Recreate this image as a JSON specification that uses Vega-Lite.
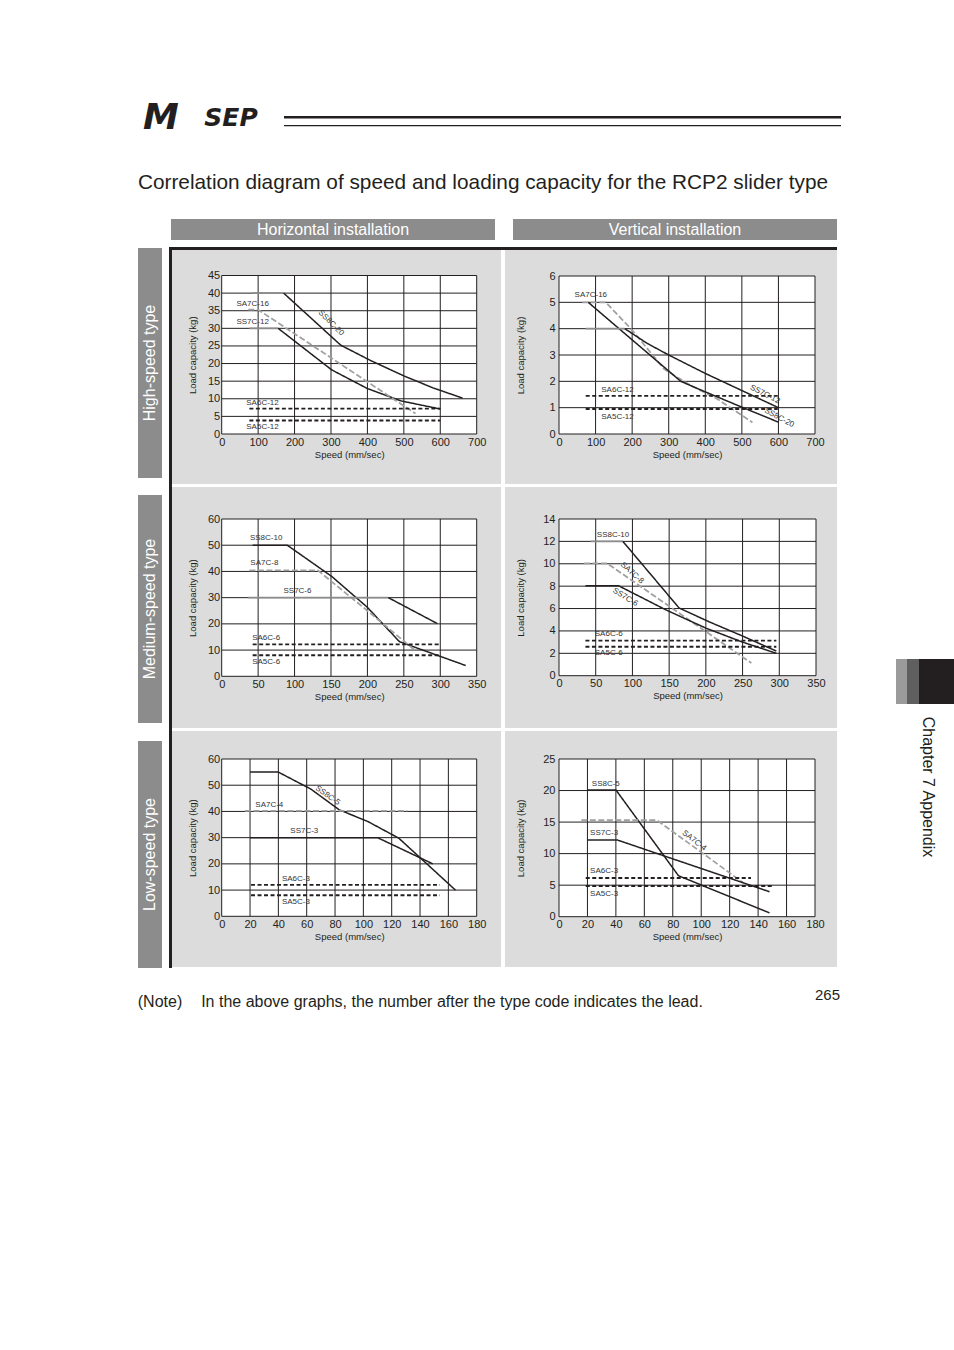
{
 "$schema": "https://vega.github.io/schema/vega-lite/v6.json",
 "padding": {"left": 137, "top": 100, "right": 0, "bottom": 0},
 "background": "white",
 "config": {
  "view": {"stroke": null},
  "font": "Liberation Sans",
  "concat": {"spacing": 0},
  "axis": {"grid": false, "domain": false, "ticks": false, "tickSize": 0, "labelFont": "Liberation Sans", "labelFontSize": 11, "labelColor": "#231f20", "titleFont": "Liberation Sans", "titleFontSize": 9.5, "titleFontWeight": "normal", "titleColor": "#231f20", "labelFlush": false, "labelOverlap": false},
  "axisX": {"labelPadding": 2, "titlePadding": 2},
  "rule": {"color": "#231f20", "strokeWidth": 1},
  "text": {"color": "#231f20"}
 },
 "spacing": 0,
 "vconcat": [
  {"spacing": 0, "hconcat": [
   {"width": 46, "height": 36, "data": {"values": [{"t": "M"}]}, "mark": {"type": "text", "font": "DejaVu Sans", "fontSize": 36, "fontWeight": "bold", "fontStyle": "italic"}, "encoding": {"text": {"field": "t"}}},
   {"width": 94, "height": 36, "data": {"values": [{"t": "SEP"}]}, "mark": {"type": "text", "font": "DejaVu Sans", "fontSize": 25, "fontWeight": "bold", "fontStyle": "italic"}, "encoding": {"text": {"field": "t"}}},
   {"width": 6, "height": 36, "data": {"values": [{}]}, "mark": {"type": "point", "size": 0, "opacity": 0}},
   {"spacing": 0, "vconcat": [
    {"width": 557, "height": 15.5, "data": {"values": [{}]}, "mark": {"type": "point", "size": 0, "opacity": 0}},
    {"width": 557, "height": 2.5, "view": {"fill": "#231f20", "stroke": null}, "data": {"values": [{}]}, "mark": {"type": "point", "size": 0, "opacity": 0}},
    {"width": 557, "height": 5.5, "data": {"values": [{}]}, "mark": {"type": "point", "size": 0, "opacity": 0}},
    {"width": 557, "height": 1.2, "view": {"fill": "#231f20", "stroke": null}, "data": {"values": [{}]}, "mark": {"type": "point", "size": 0, "opacity": 0}}
   ]}
  ]},
  {"width": 690, "height": 34, "data": {"values": [{}]}, "mark": {"type": "point", "size": 0, "opacity": 0}},
  {"width": 690, "height": 26, "data": {"values": [{"t": "Correlation diagram of speed and loading capacity for the RCP2 slider type"}]}, "mark": {"type": "text", "fontSize": 20.8}, "encoding": {"text": {"field": "t"}}},
  {"width": 690, "height": 23, "data": {"values": [{}]}, "mark": {"type": "point", "size": 0, "opacity": 0}},
  {"spacing": 0, "hconcat": [
   {"spacing": 0, "vconcat": [
    {"width": 24, "height": 29, "data": {"values": [{}]}, "mark": {"type": "point", "size": 0, "opacity": 0}},
    {"width": 24, "height": 230, "view": {"fill": "#8c8c8c", "stroke": null}, "data": {"values": [{"t": "High-speed type"}]}, "mark": {"type": "text", "angle": 270, "fontSize": 16, "color": "white"}, "encoding": {"text": {"field": "t"}}},
    {"width": 24, "height": 17, "data": {"values": [{}]}, "mark": {"type": "point", "size": 0, "opacity": 0}},
    {"width": 24, "height": 228, "view": {"fill": "#8c8c8c", "stroke": null}, "data": {"values": [{"t": "Medium-speed type"}]}, "mark": {"type": "text", "angle": 270, "fontSize": 16, "color": "white"}, "encoding": {"text": {"field": "t"}}},
    {"width": 24, "height": 18, "data": {"values": [{}]}, "mark": {"type": "point", "size": 0, "opacity": 0}},
    {"width": 24, "height": 227, "view": {"fill": "#8c8c8c", "stroke": null}, "data": {"values": [{"t": "Low-speed type"}]}, "mark": {"type": "text", "angle": 270, "fontSize": 16, "color": "white"}, "encoding": {"text": {"field": "t"}}}
   ]},
   {"width": 7, "height": 20, "data": {"values": [{}]}, "mark": {"type": "point", "size": 0, "opacity": 0}},
   {"spacing": 0, "vconcat": [
    {"spacing": 0, "hconcat": [
     {"width": 2, "height": 21, "data": {"values": [{}]}, "mark": {"type": "point", "size": 0, "opacity": 0}},
     {"width": 324, "height": 21, "view": {"fill": "#8c8c8c", "stroke": null}, "data": {"values": [{"t": "Horizontal installation"}]}, "mark": {"type": "text", "fontSize": 16, "color": "white"}, "encoding": {"text": {"field": "t"}}},
     {"width": 18, "height": 21, "data": {"values": [{}]}, "mark": {"type": "point", "size": 0, "opacity": 0}},
     {"width": 324, "height": 21, "view": {"fill": "#8c8c8c", "stroke": null}, "data": {"values": [{"t": "Vertical installation"}]}, "mark": {"type": "text", "fontSize": 16, "color": "white"}, "encoding": {"text": {"field": "t"}}}
    ]},
    {"width": 668, "height": 7, "data": {"values": [{}]}, "mark": {"type": "point", "size": 0, "opacity": 0}},
    {"spacing": 0, "hconcat": [
     {"width": 3, "height": 721, "view": {"fill": "#231f20", "stroke": null}, "data": {"values": [{}]}, "mark": {"type": "point", "size": 0, "opacity": 0}},
     {"spacing": 0, "vconcat": [
      {"width": 665, "height": 3, "view": {"fill": "#231f20", "stroke": null}, "data": {"values": [{}]}, "mark": {"type": "point", "size": 0, "opacity": 0}},
      {"spacing": 0, "hconcat": [
       {"width": 329, "height": 234, "view": {"fill": "#dcdcdc", "stroke": null}, "layer": [
        {"data": {"values": [{}]}, "mark": {"type": "rect", "fill": "white"}, "encoding": {
         "x": {"datum": 0, "type": "quantitative", "scale": {"domain": [0, 700], "range": [49.7, 304.7], "nice": false, "zero": false}, "axis": {"title": "Speed (mm/sec)", "values": [0, 100, 200, 300, 400, 500, 600, 700], "tickCount": 30, "format": "d", "offset": -50, "labelOverlap": false}},
         "x2": {"datum": 700},
         "y": {"datum": 0, "type": "quantitative", "scale": {"domain": [0, 45], "range": [184, 25.5], "nice": false, "zero": false}, "axis": {"title": "Load capacity (kg)", "values": [0, 5, 10, 15, 20, 25, 30, 35, 40, 45], "tickCount": 30, "format": "d", "offset": -49.7, "labelPadding": 2, "titlePadding": 10, "labelOverlap": false}},
         "y2": {"datum": 45}}},
        {"data": {"values": [{"v": 0}, {"v": 100}, {"v": 200}, {"v": 300}, {"v": 400}, {"v": 500}, {"v": 600}, {"v": 700}]}, "mark": "rule", "encoding": {"x": {"field": "v", "type": "quantitative"}, "y": {"datum": 0, "type": "quantitative"}, "y2": {"datum": 45}}},
        {"data": {"values": [{"v": 0}, {"v": 5}, {"v": 10}, {"v": 15}, {"v": 20}, {"v": 25}, {"v": 30}, {"v": 35}, {"v": 40}, {"v": 45}]}, "mark": "rule", "encoding": {"y": {"field": "v", "type": "quantitative"}, "x": {"datum": 0, "type": "quantitative"}, "x2": {"datum": 700}}},
        {"data": {"values": [
         {"id": "SS8C-20a", "kind": "SS-flat", "x": 85, "y": 40}, {"id": "SS8C-20a", "kind": "SS-flat", "x": 170, "y": 40},
         {"id": "SS8C-20", "kind": "SS", "x": 170, "y": 40}, {"id": "SS8C-20", "kind": "SS", "x": 327, "y": 25.2}, {"id": "SS8C-20", "kind": "SS", "x": 410, "y": 20.8}, {"id": "SS8C-20", "kind": "SS", "x": 500, "y": 16.5}, {"id": "SS8C-20", "kind": "SS", "x": 580, "y": 13.1}, {"id": "SS8C-20", "kind": "SS", "x": 661, "y": 10.2},
         {"id": "SS7C-12a", "kind": "SS-flat", "x": 76, "y": 30}, {"id": "SS7C-12a", "kind": "SS-flat", "x": 155, "y": 30},
         {"id": "SS7C-12", "kind": "SS", "x": 155, "y": 30}, {"id": "SS7C-12", "kind": "SS", "x": 302, "y": 18.2}, {"id": "SS7C-12", "kind": "SS", "x": 400, "y": 12.9}, {"id": "SS7C-12", "kind": "SS", "x": 492, "y": 9.4}, {"id": "SS7C-12", "kind": "SS", "x": 600, "y": 7.1},
         {"id": "SA7C-16", "kind": "SA7C", "x": 73, "y": 35.3}, {"id": "SA7C-16", "kind": "SA7C", "x": 100, "y": 35.3}, {"id": "SA7C-16", "kind": "SA7C", "x": 532, "y": 5.8},
         {"id": "SA6C-12", "kind": "SA6C", "x": 76, "y": 7.2}, {"id": "SA6C-12", "kind": "SA6C", "x": 600, "y": 7.2},
         {"id": "SA5C-12", "kind": "SA5C", "x": 76, "y": 3.8}, {"id": "SA5C-12", "kind": "SA5C", "x": 600, "y": 3.8}
        ]}, "mark": {"type": "line"}, "encoding": {
         "x": {"field": "x", "type": "quantitative"}, "y": {"field": "y", "type": "quantitative"}, "detail": {"field": "id"},
         "color": {"field": "kind", "type": "nominal", "legend": null, "scale": {"domain": ["SS", "SS-flat", "SA7C", "SA6C", "SA5C"], "range": ["#231f20", "#8c8c8c", "#a0a0a0", "#231f20", "#231f20"]}},
         "strokeDash": {"field": "kind", "type": "nominal", "legend": null, "scale": {"domain": ["SS", "SS-flat", "SA7C", "SA6C", "SA5C"], "range": [[1, 0], [1, 0], [6, 2.5], [4, 2.5], [4, 2.5]]}},
         "strokeWidth": {"field": "kind", "type": "nominal", "legend": null, "scale": {"domain": ["SS", "SS-flat", "SA7C", "SA6C", "SA5C"], "range": [1.5, 2, 2.8, 1.4, 1.8]}}}},
        {"data": {"values": [{"label": "SA7C-16", "x": 85, "y": 36.9}, {"label": "SS7C-12", "x": 85, "y": 31.7}, {"label": "SA6C-12", "x": 112, "y": 8.9}, {"label": "SA5C-12", "x": 112, "y": 1.9}]}, "mark": {"type": "text", "fontSize": 8, "color": "#333333"}, "encoding": {"x": {"field": "x", "type": "quantitative"}, "y": {"field": "y", "type": "quantitative"}, "text": {"field": "label"}}},
        {"data": {"values": [{"label": "SS8C-20", "x": 300, "y": 31.5}]}, "mark": {"type": "text", "fontSize": 8, "color": "#333333", "angle": 45}, "encoding": {"x": {"field": "x", "type": "quantitative"}, "y": {"field": "y", "type": "quantitative"}, "text": {"field": "label"}}}
       ]},
       {"width": 4, "height": 234, "data": {"values": [{}]}, "mark": {"type": "point", "size": 0, "opacity": 0}},
       {"width": 332, "height": 234, "view": {"fill": "#dcdcdc", "stroke": null}, "layer": [
        {"data": {"values": [{}]}, "mark": {"type": "rect", "fill": "white"}, "encoding": {
         "x": {"datum": 0, "type": "quantitative", "scale": {"domain": [0, 700], "range": [54, 310], "nice": false, "zero": false}, "axis": {"title": "Speed (mm/sec)", "values": [0, 100, 200, 300, 400, 500, 600, 700], "tickCount": 30, "format": "d", "offset": -50, "labelOverlap": false}},
         "x2": {"datum": 700},
         "y": {"datum": 0, "type": "quantitative", "scale": {"domain": [0, 6], "range": [184, 26], "nice": false, "zero": false}, "axis": {"title": "Load capacity (kg)", "values": [0, 1, 2, 3, 4, 5, 6], "tickCount": 30, "format": "d", "offset": -54, "labelPadding": 4, "titlePadding": 23, "labelOverlap": false}},
         "y2": {"datum": 6}}},
        {"data": {"values": [{"v": 0}, {"v": 100}, {"v": 200}, {"v": 300}, {"v": 400}, {"v": 500}, {"v": 600}, {"v": 700}]}, "mark": "rule", "encoding": {"x": {"field": "v", "type": "quantitative"}, "y": {"datum": 0, "type": "quantitative"}, "y2": {"datum": 6}}},
        {"data": {"values": [{"v": 0}, {"v": 1}, {"v": 2}, {"v": 3}, {"v": 4}, {"v": 5}, {"v": 6}]}, "mark": "rule", "encoding": {"y": {"field": "v", "type": "quantitative"}, "x": {"datum": 0, "type": "quantitative"}, "x2": {"datum": 700}}},
        {"data": {"values": [
         {"id": "SA7C-16", "kind": "SA7C", "x": 64, "y": 5}, {"id": "SA7C-16", "kind": "SA7C", "x": 128, "y": 5}, {"id": "SA7C-16", "kind": "SA7C", "x": 201, "y": 3.93}, {"id": "SA7C-16", "kind": "SA7C", "x": 287, "y": 2.47}, {"id": "SA7C-16", "kind": "SA7C", "x": 360, "y": 1.84}, {"id": "SA7C-16", "kind": "SA7C", "x": 433, "y": 1.33}, {"id": "SA7C-16", "kind": "SA7C", "x": 529, "y": 0.44},
         {"id": "SS8C-20", "kind": "SS", "x": 80, "y": 5}, {"id": "SS8C-20", "kind": "SS", "x": 160, "y": 4.05}, {"id": "SS8C-20", "kind": "SS", "x": 333, "y": 2.0}, {"id": "SS8C-20", "kind": "SS", "x": 400, "y": 1.6}, {"id": "SS8C-20", "kind": "SS", "x": 500, "y": 1.02}, {"id": "SS8C-20", "kind": "SS", "x": 600, "y": 0.45},
         {"id": "SS7C-12a", "kind": "SS-flat", "x": 73, "y": 4}, {"id": "SS7C-12a", "kind": "SS-flat", "x": 180, "y": 4},
         {"id": "SS7C-12", "kind": "SS", "x": 180, "y": 4}, {"id": "SS7C-12", "kind": "SS", "x": 240, "y": 3.45}, {"id": "SS7C-12", "kind": "SS", "x": 300, "y": 3.0}, {"id": "SS7C-12", "kind": "SS", "x": 400, "y": 2.3}, {"id": "SS7C-12", "kind": "SS", "x": 500, "y": 1.65}, {"id": "SS7C-12", "kind": "SS", "x": 600, "y": 1.0},
         {"id": "SA6C-12", "kind": "SA6C", "x": 73, "y": 1.45}, {"id": "SA6C-12", "kind": "SA6C", "x": 598, "y": 1.45},
         {"id": "SA5C-12", "kind": "SA5C", "x": 73, "y": 0.95}, {"id": "SA5C-12", "kind": "SA5C", "x": 598, "y": 0.95}
        ]}, "mark": {"type": "line"}, "encoding": {
         "x": {"field": "x", "type": "quantitative"}, "y": {"field": "y", "type": "quantitative"}, "detail": {"field": "id"},
         "color": {"field": "kind", "type": "nominal", "legend": null, "scale": {"domain": ["SS", "SS-flat", "SA7C", "SA6C", "SA5C"], "range": ["#231f20", "#8c8c8c", "#a0a0a0", "#231f20", "#231f20"]}},
         "strokeDash": {"field": "kind", "type": "nominal", "legend": null, "scale": {"domain": ["SS", "SS-flat", "SA7C", "SA6C", "SA5C"], "range": [[1, 0], [1, 0], [6, 2.5], [4, 2.5], [4, 2.5]]}},
         "strokeWidth": {"field": "kind", "type": "nominal", "legend": null, "scale": {"domain": ["SS", "SS-flat", "SA7C", "SA6C", "SA5C"], "range": [1.5, 2, 2.8, 1.4, 1.8]}}}},
        {"data": {"values": [{"label": "SA7C-16", "x": 87, "y": 5.27}, {"label": "SA6C-12", "x": 160, "y": 1.68}, {"label": "SA5C-12", "x": 160, "y": 0.66}]}, "mark": {"type": "text", "fontSize": 8, "color": "#333333"}, "encoding": {"x": {"field": "x", "type": "quantitative"}, "y": {"field": "y", "type": "quantitative"}, "text": {"field": "label"}}},
        {"data": {"values": [{"label": "SS7C-12", "x": 563, "y": 1.5}]}, "mark": {"type": "text", "fontSize": 8, "color": "#333333", "angle": 27}, "encoding": {"x": {"field": "x", "type": "quantitative"}, "y": {"field": "y", "type": "quantitative"}, "text": {"field": "label"}}},
        {"data": {"values": [{"label": "SS8C-20", "x": 602, "y": 0.61}]}, "mark": {"type": "text", "fontSize": 8, "color": "#333333", "angle": 28}, "encoding": {"x": {"field": "x", "type": "quantitative"}, "y": {"field": "y", "type": "quantitative"}, "text": {"field": "label"}}}
       ]}
      ]},
      {"width": 665, "height": 3, "data": {"values": [{}]}, "mark": {"type": "point", "size": 0, "opacity": 0}},
      {"spacing": 0, "hconcat": [
       {"width": 329, "height": 241, "view": {"fill": "#dcdcdc", "stroke": null}, "layer": [
        {"data": {"values": [{}]}, "mark": {"type": "rect", "fill": "white"}, "encoding": {
         "x": {"datum": 0, "type": "quantitative", "scale": {"domain": [0, 350], "range": [49.7, 304.7], "nice": false, "zero": false}, "axis": {"title": "Speed (mm/sec)", "values": [0, 50, 100, 150, 200, 250, 300, 350], "tickCount": 30, "format": "d", "offset": -51.7, "labelOverlap": false}},
         "x2": {"datum": 350},
         "y": {"datum": 0, "type": "quantitative", "scale": {"domain": [0, 60], "range": [189.3, 32], "nice": false, "zero": false}, "axis": {"title": "Load capacity (kg)", "values": [0, 10, 20, 30, 40, 50, 60], "tickCount": 30, "format": "d", "offset": -49.7, "labelPadding": 2, "titlePadding": 10, "labelOverlap": false}},
         "y2": {"datum": 60}}},
        {"data": {"values": [{"v": 0}, {"v": 50}, {"v": 100}, {"v": 150}, {"v": 200}, {"v": 250}, {"v": 300}, {"v": 350}]}, "mark": "rule", "encoding": {"x": {"field": "v", "type": "quantitative"}, "y": {"datum": 0, "type": "quantitative"}, "y2": {"datum": 60}}},
        {"data": {"values": [{"v": 0}, {"v": 10}, {"v": 20}, {"v": 30}, {"v": 40}, {"v": 50}, {"v": 60}]}, "mark": "rule", "encoding": {"y": {"field": "v", "type": "quantitative"}, "x": {"datum": 0, "type": "quantitative"}, "x2": {"datum": 350}}},
        {"data": {"values": [
         {"id": "SS8C-10", "kind": "SS", "x": 42.5, "y": 50}, {"id": "SS8C-10", "kind": "SS", "x": 90, "y": 50}, {"id": "SS8C-10", "kind": "SS", "x": 151, "y": 38.1}, {"id": "SS8C-10", "kind": "SS", "x": 200, "y": 26.3}, {"id": "SS8C-10", "kind": "SS", "x": 244, "y": 13.2}, {"id": "SS8C-10", "kind": "SS", "x": 296, "y": 8}, {"id": "SS8C-10", "kind": "SS", "x": 335, "y": 4.1},
         {"id": "SA7C-8", "kind": "SA7C", "x": 38, "y": 40.4}, {"id": "SA7C-8", "kind": "SA7C", "x": 132, "y": 40.4}, {"id": "SA7C-8", "kind": "SA7C", "x": 200, "y": 25}, {"id": "SA7C-8", "kind": "SA7C", "x": 264, "y": 10.2},
         {"id": "SS7C-6a", "kind": "SS-flat", "x": 36.6, "y": 30}, {"id": "SS7C-6a", "kind": "SS-flat", "x": 228.7, "y": 30},
         {"id": "SS7C-6", "kind": "SS", "x": 228.7, "y": 30}, {"id": "SS7C-6", "kind": "SS", "x": 296, "y": 20.1},
         {"id": "SA6C-6", "kind": "SA6C", "x": 42.5, "y": 12.2}, {"id": "SA6C-6", "kind": "SA6C", "x": 300, "y": 12.2},
         {"id": "SA5C-6", "kind": "SA5C", "x": 42.5, "y": 8}, {"id": "SA5C-6", "kind": "SA5C", "x": 300, "y": 8}
        ]}, "mark": {"type": "line"}, "encoding": {
         "x": {"field": "x", "type": "quantitative"}, "y": {"field": "y", "type": "quantitative"}, "detail": {"field": "id"},
         "color": {"field": "kind", "type": "nominal", "legend": null, "scale": {"domain": ["SS", "SS-flat", "SA7C", "SA6C", "SA5C"], "range": ["#231f20", "#8c8c8c", "#a0a0a0", "#231f20", "#231f20"]}},
         "strokeDash": {"field": "kind", "type": "nominal", "legend": null, "scale": {"domain": ["SS", "SS-flat", "SA7C", "SA6C", "SA5C"], "range": [[1, 0], [1, 0], [6, 2.5], [4, 2.5], [4, 2.5]]}},
         "strokeWidth": {"field": "kind", "type": "nominal", "legend": null, "scale": {"domain": ["SS", "SS-flat", "SA7C", "SA6C", "SA5C"], "range": [1.5, 2, 2.8, 1.2, 1.2]}}}},
        {"data": {"values": [{"label": "SS8C-10", "x": 61, "y": 52.7}, {"label": "SA7C-8", "x": 58.5, "y": 43.2}, {"label": "SS7C-6", "x": 104, "y": 32.5}, {"label": "SA6C-6", "x": 61, "y": 14.5}, {"label": "SA5C-6", "x": 61, "y": 5.6}]}, "mark": {"type": "text", "fontSize": 8, "color": "#333333"}, "encoding": {"x": {"field": "x", "type": "quantitative"}, "y": {"field": "y", "type": "quantitative"}, "text": {"field": "label"}}}
       ]},
       {"width": 4, "height": 241, "data": {"values": [{}]}, "mark": {"type": "point", "size": 0, "opacity": 0}},
       {"width": 332, "height": 241, "view": {"fill": "#dcdcdc", "stroke": null}, "layer": [
        {"data": {"values": [{}]}, "mark": {"type": "rect", "fill": "white"}, "encoding": {
         "x": {"datum": 0, "type": "quantitative", "scale": {"domain": [0, 350], "range": [54, 311], "nice": false, "zero": false}, "axis": {"title": "Speed (mm/sec)", "values": [0, 50, 100, 150, 200, 250, 300, 350], "tickCount": 30, "format": "d", "offset": -52.3, "labelOverlap": false}},
         "x2": {"datum": 350},
         "y": {"datum": 0, "type": "quantitative", "scale": {"domain": [0, 14], "range": [188.7, 32], "nice": false, "zero": false}, "axis": {"title": "Load capacity (kg)", "values": [0, 2, 4, 6, 8, 10, 12, 14], "tickCount": 30, "format": "d", "offset": -54, "labelPadding": 4, "titlePadding": 17, "labelOverlap": false}},
         "y2": {"datum": 14}}},
        {"data": {"values": [{"v": 0}, {"v": 50}, {"v": 100}, {"v": 150}, {"v": 200}, {"v": 250}, {"v": 300}, {"v": 350}]}, "mark": "rule", "encoding": {"x": {"field": "v", "type": "quantitative"}, "y": {"datum": 0, "type": "quantitative"}, "y2": {"datum": 14}}},
        {"data": {"values": [{"v": 0}, {"v": 2}, {"v": 4}, {"v": 6}, {"v": 8}, {"v": 10}, {"v": 12}, {"v": 14}]}, "mark": "rule", "encoding": {"y": {"field": "v", "type": "quantitative"}, "x": {"datum": 0, "type": "quantitative"}, "x2": {"datum": 350}}},
        {"data": {"values": [
         {"id": "SS8C-10a", "kind": "SS-flat", "x": 43, "y": 12}, {"id": "SS8C-10a", "kind": "SS-flat", "x": 87, "y": 12},
         {"id": "SS8C-10", "kind": "SS", "x": 87, "y": 12}, {"id": "SS8C-10", "kind": "SS", "x": 163.5, "y": 6.05}, {"id": "SS8C-10", "kind": "SS", "x": 205, "y": 4.8}, {"id": "SS8C-10", "kind": "SS", "x": 248, "y": 3.6}, {"id": "SS8C-10", "kind": "SS", "x": 296, "y": 2.2},
         {"id": "SA7C-8", "kind": "SA7C", "x": 34, "y": 10.04}, {"id": "SA7C-8", "kind": "SA7C", "x": 65.5, "y": 10.04}, {"id": "SA7C-8", "kind": "SA7C", "x": 262, "y": 1.13},
         {"id": "SS7C-6", "kind": "SS", "x": 36, "y": 8.04}, {"id": "SS7C-6", "kind": "SS", "x": 81, "y": 8.04}, {"id": "SS7C-6", "kind": "SS", "x": 145, "y": 5.9}, {"id": "SS7C-6", "kind": "SS", "x": 200, "y": 4.25}, {"id": "SS7C-6", "kind": "SS", "x": 250, "y": 3.0}, {"id": "SS7C-6", "kind": "SS", "x": 296, "y": 2.0},
         {"id": "SA6C-6", "kind": "SA6C", "x": 36, "y": 3.13}, {"id": "SA6C-6", "kind": "SA6C", "x": 296, "y": 3.13},
         {"id": "SA5C-6", "kind": "SA5C", "x": 36, "y": 2.59}, {"id": "SA5C-6", "kind": "SA5C", "x": 296, "y": 2.59}
        ]}, "mark": {"type": "line"}, "encoding": {
         "x": {"field": "x", "type": "quantitative"}, "y": {"field": "y", "type": "quantitative"}, "detail": {"field": "id"},
         "color": {"field": "kind", "type": "nominal", "legend": null, "scale": {"domain": ["SS", "SS-flat", "SA7C", "SA6C", "SA5C"], "range": ["#231f20", "#8c8c8c", "#a0a0a0", "#231f20", "#231f20"]}},
         "strokeDash": {"field": "kind", "type": "nominal", "legend": null, "scale": {"domain": ["SS", "SS-flat", "SA7C", "SA6C", "SA5C"], "range": [[1, 0], [1, 0], [6, 2.5], [4, 2.5], [4, 2.5]]}},
         "strokeWidth": {"field": "kind", "type": "nominal", "legend": null, "scale": {"domain": ["SS", "SS-flat", "SA7C", "SA6C", "SA5C"], "range": [1.5, 2, 2.8, 1.8, 1.8]}}}},
        {"data": {"values": [{"label": "SS8C-10", "x": 73.6, "y": 12.57}, {"label": "SA6C-6", "x": 67.8, "y": 3.69}, {"label": "SA5C-6", "x": 67.8, "y": 2.03}]}, "mark": {"type": "text", "fontSize": 8, "color": "#333333"}, "encoding": {"x": {"field": "x", "type": "quantitative"}, "y": {"field": "y", "type": "quantitative"}, "text": {"field": "label"}}},
        {"data": {"values": [{"label": "SA7C-8", "x": 99.4, "y": 9.17}]}, "mark": {"type": "text", "fontSize": 8, "color": "#333333", "angle": 42}, "encoding": {"x": {"field": "x", "type": "quantitative"}, "y": {"field": "y", "type": "quantitative"}, "text": {"field": "label"}}},
        {"data": {"values": [{"label": "SS7C-6", "x": 90, "y": 7.0}]}, "mark": {"type": "text", "fontSize": 8, "color": "#333333", "angle": 32}, "encoding": {"x": {"field": "x", "type": "quantitative"}, "y": {"field": "y", "type": "quantitative"}, "text": {"field": "label"}}}
       ]}
      ]},
      {"width": 665, "height": 3, "data": {"values": [{}]}, "mark": {"type": "point", "size": 0, "opacity": 0}},
      {"spacing": 0, "hconcat": [
       {"width": 329, "height": 236, "view": {"fill": "#dcdcdc", "stroke": null}, "layer": [
        {"data": {"values": [{}]}, "mark": {"type": "rect", "fill": "white"}, "encoding": {
         "x": {"datum": 0, "type": "quantitative", "scale": {"domain": [0, 180], "range": [49.7, 304.7], "nice": false, "zero": false}, "axis": {"title": "Speed (mm/sec)", "values": [0, 20, 40, 60, 80, 100, 120, 140, 160, 180], "tickCount": 30, "format": "d", "offset": -50.7, "labelOverlap": false}},
         "x2": {"datum": 180},
         "y": {"datum": 0, "type": "quantitative", "scale": {"domain": [0, 60], "range": [185.3, 28], "nice": false, "zero": false}, "axis": {"title": "Load capacity (kg)", "values": [0, 10, 20, 30, 40, 50, 60], "tickCount": 30, "format": "d", "offset": -49.7, "labelPadding": 2, "titlePadding": 10, "labelOverlap": false}},
         "y2": {"datum": 60}}},
        {"data": {"values": [{"v": 0}, {"v": 20}, {"v": 40}, {"v": 60}, {"v": 80}, {"v": 100}, {"v": 120}, {"v": 140}, {"v": 160}, {"v": 180}]}, "mark": "rule", "encoding": {"x": {"field": "v", "type": "quantitative"}, "y": {"datum": 0, "type": "quantitative"}, "y2": {"datum": 60}}},
        {"data": {"values": [{"v": 0}, {"v": 10}, {"v": 20}, {"v": 30}, {"v": 40}, {"v": 50}, {"v": 60}]}, "mark": "rule", "encoding": {"y": {"field": "v", "type": "quantitative"}, "x": {"datum": 0, "type": "quantitative"}, "x2": {"datum": 180}}},
        {"data": {"values": [
         {"id": "SS8C-5", "kind": "SS", "x": 20, "y": 55}, {"id": "SS8C-5", "kind": "SS", "x": 40, "y": 55}, {"id": "SS8C-5", "kind": "SS", "x": 63, "y": 48.5}, {"id": "SS8C-5", "kind": "SS", "x": 83, "y": 40.6}, {"id": "SS8C-5", "kind": "SS", "x": 103, "y": 36.2}, {"id": "SS8C-5", "kind": "SS", "x": 125, "y": 29.8}, {"id": "SS8C-5", "kind": "SS", "x": 145, "y": 19.9}, {"id": "SS8C-5", "kind": "SS", "x": 165, "y": 10},
         {"id": "SS7C-3", "kind": "SS", "x": 20, "y": 30}, {"id": "SS7C-3", "kind": "SS", "x": 110, "y": 30}, {"id": "SS7C-3", "kind": "SS", "x": 149, "y": 20},
         {"id": "SA7C-4", "kind": "SA7C", "x": 16.4, "y": 40.2}, {"id": "SA7C-4", "kind": "SA7C", "x": 131, "y": 40.2},
         {"id": "SA6C-3", "kind": "SA6C", "x": 20.7, "y": 12}, {"id": "SA6C-3", "kind": "SA6C", "x": 154, "y": 12},
         {"id": "SA5C-3", "kind": "SA5C", "x": 20.7, "y": 8}, {"id": "SA5C-3", "kind": "SA5C", "x": 154, "y": 8}
        ]}, "mark": {"type": "line"}, "encoding": {
         "x": {"field": "x", "type": "quantitative"}, "y": {"field": "y", "type": "quantitative"}, "detail": {"field": "id"},
         "color": {"field": "kind", "type": "nominal", "legend": null, "scale": {"domain": ["SS", "SS-flat", "SA7C", "SA6C", "SA5C"], "range": ["#231f20", "#8c8c8c", "#a0a0a0", "#231f20", "#231f20"]}},
         "strokeDash": {"field": "kind", "type": "nominal", "legend": null, "scale": {"domain": ["SS", "SS-flat", "SA7C", "SA6C", "SA5C"], "range": [[1, 0], [1, 0], [6, 2.5], [4, 2.5], [4, 2.5]]}},
         "strokeWidth": {"field": "kind", "type": "nominal", "legend": null, "scale": {"domain": ["SS", "SS-flat", "SA7C", "SA6C", "SA5C"], "range": [1.6, 2, 2.8, 1.2, 2.2]}}}},
        {"data": {"values": [{"label": "SA7C-4", "x": 33.6, "y": 42.4}, {"label": "SS7C-3", "x": 58.3, "y": 32.5}, {"label": "SA6C-3", "x": 52.4, "y": 14.2}, {"label": "SA5C-3", "x": 52.4, "y": 5.3}]}, "mark": {"type": "text", "fontSize": 8, "color": "#333333"}, "encoding": {"x": {"field": "x", "type": "quantitative"}, "y": {"field": "y", "type": "quantitative"}, "text": {"field": "label"}}},
        {"data": {"values": [{"label": "SS8C-5", "x": 74.7, "y": 46}]}, "mark": {"type": "text", "fontSize": 8, "color": "#333333", "angle": 35}, "encoding": {"x": {"field": "x", "type": "quantitative"}, "y": {"field": "y", "type": "quantitative"}, "text": {"field": "label"}}}
       ]},
       {"width": 4, "height": 236, "data": {"values": [{}]}, "mark": {"type": "point", "size": 0, "opacity": 0}},
       {"width": 332, "height": 236, "view": {"fill": "#dcdcdc", "stroke": null}, "layer": [
        {"data": {"values": [{}]}, "mark": {"type": "rect", "fill": "white"}, "encoding": {
         "x": {"datum": 0, "type": "quantitative", "scale": {"domain": [0, 180], "range": [54, 310], "nice": false, "zero": false}, "axis": {"title": "Speed (mm/sec)", "values": [0, 20, 40, 60, 80, 100, 120, 140, 160, 180], "tickCount": 30, "format": "d", "offset": -50.3, "labelOverlap": false}},
         "x2": {"datum": 180},
         "y": {"datum": 0, "type": "quantitative", "scale": {"domain": [0, 25], "range": [185.7, 28], "nice": false, "zero": false}, "axis": {"title": "Load capacity (kg)", "values": [0, 5, 10, 15, 20, 25], "tickCount": 30, "format": "d", "offset": -54, "labelPadding": 4, "titlePadding": 17, "labelOverlap": false}},
         "y2": {"datum": 25}}},
        {"data": {"values": [{"v": 0}, {"v": 20}, {"v": 40}, {"v": 60}, {"v": 80}, {"v": 100}, {"v": 120}, {"v": 140}, {"v": 160}, {"v": 180}]}, "mark": "rule", "encoding": {"x": {"field": "v", "type": "quantitative"}, "y": {"datum": 0, "type": "quantitative"}, "y2": {"datum": 25}}},
        {"data": {"values": [{"v": 0}, {"v": 5}, {"v": 10}, {"v": 15}, {"v": 20}, {"v": 25}]}, "mark": "rule", "encoding": {"y": {"field": "v", "type": "quantitative"}, "x": {"datum": 0, "type": "quantitative"}, "x2": {"datum": 180}}},
        {"data": {"values": [
         {"id": "SS8C-5", "kind": "SS", "x": 20, "y": 20.1}, {"id": "SS8C-5", "kind": "SS", "x": 40, "y": 20.1}, {"id": "SS8C-5", "kind": "SS", "x": 84, "y": 6.5}, {"id": "SS8C-5", "kind": "SS", "x": 148, "y": 0.6},
         {"id": "SA7C-4", "kind": "SA7C", "x": 15.7, "y": 15.3}, {"id": "SA7C-4", "kind": "SA7C", "x": 68.8, "y": 15.3}, {"id": "SA7C-4", "kind": "SA7C", "x": 102, "y": 9.9}, {"id": "SA7C-4", "kind": "SA7C", "x": 130, "y": 5.3},
         {"id": "SS7C-3", "kind": "SS", "x": 20, "y": 12.16}, {"id": "SS7C-3", "kind": "SS", "x": 41, "y": 12.16}, {"id": "SS7C-3", "kind": "SS", "x": 148, "y": 3.96},
         {"id": "SA6C-3", "kind": "SA6C", "x": 18.8, "y": 6.13}, {"id": "SA6C-3", "kind": "SA6C", "x": 135, "y": 6.13},
         {"id": "SA5C-3", "kind": "SA5C", "x": 18.8, "y": 4.86}, {"id": "SA5C-3", "kind": "SA5C", "x": 151, "y": 4.86}
        ]}, "mark": {"type": "line"}, "encoding": {
         "x": {"field": "x", "type": "quantitative"}, "y": {"field": "y", "type": "quantitative"}, "detail": {"field": "id"},
         "color": {"field": "kind", "type": "nominal", "legend": null, "scale": {"domain": ["SS", "SS-flat", "SA7C", "SA6C", "SA5C"], "range": ["#231f20", "#8c8c8c", "#a0a0a0", "#231f20", "#231f20"]}},
         "strokeDash": {"field": "kind", "type": "nominal", "legend": null, "scale": {"domain": ["SS", "SS-flat", "SA7C", "SA6C", "SA5C"], "range": [[1, 0], [1, 0], [6, 2.5], [4, 2.5], [3, 2]]}},
         "strokeWidth": {"field": "kind", "type": "nominal", "legend": null, "scale": {"domain": ["SS", "SS-flat", "SA7C", "SA6C", "SA5C"], "range": [1.6, 2, 2.8, 1.8, 2.6]}}}},
        {"data": {"values": [{"label": "SS8C-5", "x": 32.9, "y": 21.1}, {"label": "SS7C-3", "x": 31.7, "y": 13.3}, {"label": "SA6C-3", "x": 31.7, "y": 7.2}, {"label": "SA5C-3", "x": 31.7, "y": 3.6}]}, "mark": {"type": "text", "fontSize": 8, "color": "#333333"}, "encoding": {"x": {"field": "x", "type": "quantitative"}, "y": {"field": "y", "type": "quantitative"}, "text": {"field": "label"}}},
        {"data": {"values": [{"label": "SA7C-4", "x": 95, "y": 12.05}]}, "mark": {"type": "text", "fontSize": 8, "color": "#333333", "angle": 38}, "encoding": {"x": {"field": "x", "type": "quantitative"}, "y": {"field": "y", "type": "quantitative"}, "text": {"field": "label"}}}
       ]}
      ]}
     ]}
    ]}
   ]},
   {"width": 59, "height": 20, "data": {"values": [{}]}, "mark": {"type": "point", "size": 0, "opacity": 0}},
   {"spacing": 0, "vconcat": [
    {"width": 59, "height": 440, "data": {"values": [{}]}, "mark": {"type": "point", "size": 0, "opacity": 0}},
    {"spacing": 0, "hconcat": [
     {"width": 11, "height": 45, "view": {"fill": "#9b9b9b", "stroke": null}, "data": {"values": [{}]}, "mark": {"type": "point", "size": 0, "opacity": 0}},
     {"width": 12, "height": 45, "view": {"fill": "#5f5f5f", "stroke": null}, "data": {"values": [{}]}, "mark": {"type": "point", "size": 0, "opacity": 0}},
     {"width": 36, "height": 45, "view": {"fill": "#231f20", "stroke": null}, "data": {"values": [{}]}, "mark": {"type": "point", "size": 0, "opacity": 0}}
    ]},
    {"width": 59, "height": 10, "data": {"values": [{}]}, "mark": {"type": "point", "size": 0, "opacity": 0}},
    {"spacing": 0, "hconcat": [
     {"width": 19, "height": 146, "data": {"values": [{}]}, "mark": {"type": "point", "size": 0, "opacity": 0}},
     {"width": 26, "height": 146, "data": {"values": [{"t": "Chapter 7 Appendix"}]}, "mark": {"type": "text", "angle": 90, "fontSize": 16}, "encoding": {"text": {"field": "t"}}}
    ]}
   ]}
  ]},
  {"spacing": 0, "hconcat": [
   {"spacing": 0, "vconcat": [
    {"width": 44, "height": 24, "data": {"values": [{}]}, "mark": {"type": "point", "size": 0, "opacity": 0}},
    {"width": 44, "height": 20, "data": {"values": [{"t": "(Note)"}]}, "mark": {"type": "text", "fontSize": 16}, "encoding": {"text": {"field": "t"}}}
   ]},
   {"width": 16, "height": 44, "data": {"values": [{}]}, "mark": {"type": "point", "size": 0, "opacity": 0}},
   {"spacing": 0, "vconcat": [
    {"width": 506, "height": 24, "data": {"values": [{}]}, "mark": {"type": "point", "size": 0, "opacity": 0}},
    {"width": 506, "height": 20, "data": {"values": [{"t": "In the above graphs, the number after the type code indicates the lead."}]}, "mark": {"type": "text", "fontSize": 16}, "encoding": {"text": {"field": "t"}}}
   ]},
   {"width": 109, "height": 44, "data": {"values": [{}]}, "mark": {"type": "point", "size": 0, "opacity": 0}},
   {"spacing": 0, "vconcat": [
    {"width": 25, "height": 17, "data": {"values": [{}]}, "mark": {"type": "point", "size": 0, "opacity": 0}},
    {"width": 25, "height": 20, "data": {"values": [{"t": "265"}]}, "mark": {"type": "text", "fontSize": 15}, "encoding": {"text": {"field": "t"}}}
   ]}
  ]}
 ]
}
